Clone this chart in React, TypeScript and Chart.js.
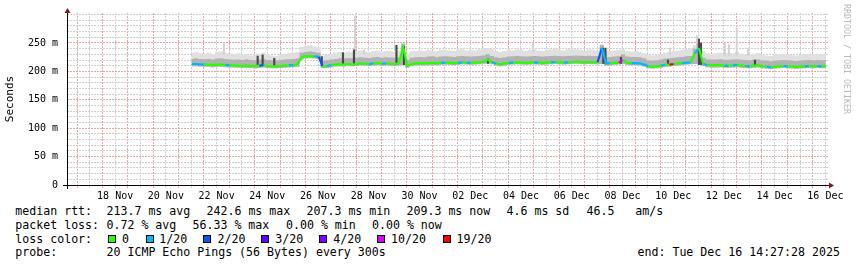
import React, { useEffect, useRef } from 'react';
import { Chart, registerables } from 'chart.js';

Chart.register(...registerables);

// ---- time frame: hours since window start (Sun 16 Nov 2025 14:27:28), 30-day window ----
const WINDOW_HOURS = 720;
const FIRST_SAMPLE_HOUR = 118;
const SAMPLE_STEP_HOURS = 4;
const FIRST_MIDNIGHT_HOUR = 9.54; // 17 Nov 00:00
const FIRST_LABEL_HOUR = 45.54; // 18 Nov 12:00
const Y_MAX = 302.8;

const dayLabels = ['18 Nov', '20 Nov', '22 Nov', '24 Nov', '26 Nov', '28 Nov', '30 Nov', '02 Dec', '04 Dec', '06 Dec', '08 Dec', '10 Dec', '12 Dec', '14 Dec', '16 Dec'];
const yTickValues = [0, 50, 100, 150, 200, 250];
const yTickLabels = ['0', '50 m', '100 m', '150 m', '200 m', '250 m'];

// ---- median rtt (ms), one value per 4 h ----
const medianMs = [
  213, 213, 212.5, 212, 212, 211.5, 211.8, 212, 211.5, 211,
  210.5, 210, 209.5, 210, 209.5, 209, 210, 211, 209.5, 209,
  209, 209.5, 210, 210.5, 211, 212, 225, 226.5, 227, 226.5,
  226, 209, 209.5, 211, 212, 212.5, 212, 213, 212.5, 213,
  214, 213.5, 213, 214, 214.5, 213.5, 214, 213.5, 213, 214,
  242.6, 210, 213, 214, 214.5, 214, 214.5, 215, 214.5, 215,
  215.5, 215, 214.5, 215, 216, 215.5, 215, 215.5, 216, 217,
  221, 216, 214, 212.5, 214, 215, 215.5, 216, 215.5, 215,
  215.5, 216, 215.5, 215, 215.5, 216, 216.5, 216, 215.5, 216,
  216.5, 217, 216.5, 216, 216.5, 216, 216, 241, 214, 214.5,
  215, 215.5, 220, 215, 214.5, 214.5, 214, 212, 209, 208.5,
  209, 210, 211.5, 212, 213, 214, 214.5, 215.5, 216, 232,
  241, 213, 211, 210.5, 210.5, 211, 210, 210, 210.5, 211,
  210, 209.5, 209, 210, 210.5, 209, 208.5, 207.3, 208.5, 209,
  209.5, 209, 208.5, 208, 208.5, 209, 209.5, 209, 209.5, 209, 209.3,
];

// ---- lost pings out of 20, per sample ----
const lostPings = [
  1, 1, 1, 1, 0, 0, 0, 0, 0, 1,
  0, 0, 0, 0, 0, 0, 0, 2, 0, 0,
  0, 0, 0, 0, 1, 0, 0, 0, 0, 0,
  1, 2, 0, 1, 0, 0, 0, 0, 0, 0,
  0, 0, 0, 1, 0, 0, 1, 0, 0, 0,
  0, 0, 0, 0, 0, 0, 0, 0, 0, 0,
  1, 0, 0, 0, 1, 0, 1, 0, 0, 0,
  0, 0, 1, 0, 0, 0, 1, 0, 0, 0,
  0, 0, 1, 0, 0, 0, 1, 0, 0, 1,
  0, 0, 0, 0, 0, 0, 0, 2, 1, 1,
  0, 0, 10, 0, 0, 1, 1, 1, 1, 0,
  0, 0, 1, 0, 19, 0, 0, 1, 1, 0,
  1, 0, 1, 0, 0, 0, 0, 1, 0, 1,
  0, 0, 1, 0, 0, 0, 0, 1, 0, 0,
  0, 1, 0, 0, 0, 0, 1, 0, 0, 1, 0,
];

// ---- smoke: lowest ping, top of dense smoke, top of light smoke (ms) ----
const smokeLowMs = [
  209, 209, 208.5, 208, 208, 207.5, 208, 208, 207.5, 207,
  207, 206.5, 206, 206.5, 206, 205.5, 206, 207, 206, 205.5,
  205.5, 206, 206.5, 207, 207.5, 208, 221, 222.5, 223, 222.5,
  222, 206, 206, 207.5, 208.5, 209, 208.5, 209.5, 209, 209.5,
  210.5, 210, 209.5, 210.5, 211, 210, 210.5, 210, 209.5, 210.5,
  211, 206.5, 209.5, 210.5, 211, 210.5, 211, 211.5, 211, 211.5,
  212, 211.5, 211, 211.5, 212.5, 212, 211.5, 212, 212.5, 213.5,
  214, 212.5, 210.5, 209, 210.5, 211.5, 212, 212.5, 212, 211.5,
  212, 212.5, 212, 211.5, 212, 212.5, 213, 212.5, 212, 212.5,
  213, 213.5, 213, 212.5, 213, 212.5, 212.5, 213, 210.5, 211,
  211.5, 212, 213, 211.5, 211, 211, 210.5, 208.5, 205.5, 205,
  205.5, 206.5, 208, 208.5, 209.5, 210.5, 211, 212, 212.5, 213,
  213, 209.5, 207.5, 207, 207, 207.5, 206.5, 206.5, 207, 207.5,
  206.5, 206, 205.5, 206.5, 207, 205.5, 205, 204, 205, 205.5,
  206, 205.5, 205, 204.5, 205, 205.5, 206, 205.5, 206, 205.5, 206,
];
const smokeDenseTopMs = [
  222, 223, 222, 221.5, 222, 221, 222.5, 223, 222, 221,
  220.5, 221, 220, 221.5, 220, 219.5, 221, 222, 220, 219.5,
  219, 220, 221, 221.5, 222, 223, 233, 234, 235, 234,
  233, 219, 219.5, 221, 222, 223, 222.5, 223.5, 223, 224,
  225, 224, 223.5, 225, 225.5, 224, 225, 224.5, 224, 225,
  248, 220, 224, 225, 225.5, 225, 226, 226.5, 225.5, 226,
  226.5, 226, 225.5, 226.5, 227, 226.5, 226, 226.5, 227, 228,
  230, 227, 225, 223.5, 225, 226, 226.5, 227, 226.5, 226,
  226.5, 227, 226.5, 226, 226.5, 227, 227.5, 227, 226.5, 227,
  227.5, 228, 227.5, 227, 227.5, 227, 227, 246, 225, 225.5,
  226, 226.5, 230, 226, 225.5, 225.5, 225, 223, 219.5, 219,
  219.5, 221, 222.5, 223, 224, 225, 225.5, 226.5, 227, 240,
  248, 224, 221.5, 221, 221, 221.5, 220.5, 220.5, 221, 221.5,
  220.5, 220, 219.5, 220.5, 221, 219.5, 219, 218, 219, 219.5,
  220, 219.5, 219, 218.5, 219, 219.5, 220, 219.5, 220, 219.5, 220,
];
const smokeLightTopMs = [
  233, 234, 232, 231, 233, 230, 234, 235, 233, 231,
  230, 232, 229, 231, 228, 229, 231, 233, 230, 228,
  227, 230, 231, 232, 233, 234, 243, 245, 246, 244,
  242, 228, 229, 231, 233, 234, 233, 235, 234, 236,
  237, 235, 234, 236, 237, 235, 236, 236, 234, 237,
  250, 230, 235, 236, 237, 236, 238, 237, 236, 238,
  238, 237, 236, 238, 239, 237, 238, 237, 239, 240,
  241, 239, 236, 234, 236, 238, 237, 239, 238, 236,
  238, 239, 237, 236, 238, 239, 240, 238, 237, 239,
  240, 239, 238, 237, 239, 238, 237, 248, 237, 236,
  237, 238, 239, 236, 235, 236, 234, 232, 229, 228,
  229, 231, 233, 234, 236, 237, 238, 239, 240, 246,
  252, 236, 232, 231, 232, 233, 231, 233, 232, 234,
  231, 230, 229, 231, 232, 229, 228, 227, 229, 230,
  231, 230, 229, 228, 229, 230, 231, 230, 231, 230, 231,
];

// ---- individual smoke spikes: [hour, low ms, high ms] ----
const darkSpikes = [
  [180.4, 212, 227], [185.1, 212, 229], [196.1, 210, 223], [241, 210, 226],
  [261.1, 212, 233], [271.5, 212, 238], [311.7, 213, 246], [318.8, 212, 244],
  [398.3, 214, 222], [507.4, 214, 241], [509.5, 214, 241], [524.1, 214, 225],
  [568.6, 211, 220], [597.9, 212, 257], [599.8, 212, 250], [650.9, 210, 220],
];
const lightSpikes = [
  [148.5, 230, 250], [272.5, 230, 298], [281, 230, 238], [441, 235, 250],
  [570.5, 230, 241], [596, 230, 263], [622.5, 228, 250], [626.3, 228, 247],
  [633.6, 228, 275], [644.3, 228, 240],
];

// ---- legend ----
const lossSteps = [0, 1, 2, 3, 4, 10, 19];
const lossLabels = ['0', '1/20', '2/20', '3/20', '4/20', '10/20', '19/20'];
const lossColors = ['#26ff00', '#00b8ff', '#0059ff', '#5e00ff', '#7e00ff', '#dd00ff', '#ff0000'];
const rttLine = ['median rtt:', '213.7 ms avg', '242.6 ms max', '207.3 ms min', '209.3 ms now', '4.6 ms sd', '46.5   am/s'];
const lossLine = ['packet loss:', '0.72 % avg', '56.33 % max', '0.00 % min', '0.00 % now'];
const probeLine = ['probe:', '20 ICMP Echo Pings (56 Bytes) every 300s', 'end: Tue Dec 16 14:27:28 2025'];
const watermark = 'RRDTOOL / TOBI OETIKER';

// ---- layout / style ----
const W = 857;
const CANVAS_H = 200;
const MONO = '"DejaVu Sans Mono", monospace';
const GRID_GRAY = '#cfcfcf';
const GRID_RED = '#eaa4a4';
const ARROW = '#7f1a1a';
const rttX = [15.3, 106.5, 206.5, 306.5, 406.5, 506.5, 586.5];
const lossX = [15.3, 106.5, 192.5, 286, 372];
const probeX = [15.3, 106.5, 637.5];
const swatchX = [108, 145.5, 203, 261, 319, 377, 442.5];
const lossLabelX = [122, 159.3, 217.5, 275.3, 333.3, 391, 456.6];
const lineTops = [204, 218, 231.7, 245.3];

const colorForLoss = (n: number) => {
  let c = lossColors[0];
  lossSteps.forEach((s, i) => { if (n >= s) c = lossColors[i]; });
  return c;
};
const hourOf = (i: number) => FIRST_SAMPLE_HOUR + i * SAMPLE_STEP_HOURS;
const isInt = (v: number) => Math.abs(v - Math.round(v)) < 1e-6;
const isMidnight = (v: number) => isInt((v - FIRST_MIDNIGHT_HOUR) / 24);

const tickValueAt = (c: any) => {
  const s = c && c.scale;
  const t = c && (c.tick || (s && s.ticks && s.ticks[c.index]));
  return t ? Number(t.value) : NaN;
};

const axesPlugin = {
  id: 'rrdAxes',
  afterDatasetsDraw(chart: any) {
    const { ctx, chartArea } = chart;
    const { left, right, top, bottom } = chartArea;
    ctx.save();
    ctx.setLineDash([]);
    ctx.strokeStyle = '#000';
    ctx.lineWidth = 1;
    ctx.beginPath();
    ctx.moveTo(left - 4, bottom + 0.5);
    ctx.lineTo(right + 2, bottom + 0.5);
    ctx.moveTo(left + 0.5, bottom + 4);
    ctx.lineTo(left + 0.5, top - 2);
    ctx.stroke();
    ctx.fillStyle = ARROW;
    ctx.beginPath();
    ctx.moveTo(left + 0.5, top - 5);
    ctx.lineTo(left - 2.5, top);
    ctx.lineTo(left + 3.5, top);
    ctx.closePath();
    ctx.fill();
    ctx.beginPath();
    ctx.moveTo(right + 6, bottom + 0.5);
    ctx.lineTo(right + 1, bottom - 2.5);
    ctx.lineTo(right + 1, bottom + 3.5);
    ctx.closePath();
    ctx.fill();
    ctx.restore();
  },
};

const zeroPadding = (s: any) => {
  s.paddingLeft = 0; s.paddingRight = 0; s.paddingTop = 0; s.paddingBottom = 0;
};

export default function App() {
  const ref = useRef<HTMLCanvasElement>(null);

  useEffect(() => {
    if (!ref.current) return;
    const pts = (arr: number[]) => arr.map((v, i) => ({ x: hourOf(i), y: v }));
    const smokeCommon = {
      type: 'line' as const,
      pointRadius: 0,
      borderWidth: 1,
      borderColor: 'rgba(0,0,0,0)',
      stepped: 'middle' as const,
    };
    const xColor = (c: any) => (isMidnight(tickValueAt(c)) ? GRID_RED : GRID_GRAY);
    const yColor = (c: any) => {
      const v = tickValueAt(c);
      return v % 50 === 0 && v < 300 ? GRID_RED : GRID_GRAY;
    };
    const chart = new Chart(ref.current, {
      type: 'line',
      data: {
        datasets: [
          {
            type: 'line',
            label: 'median',
            data: pts(medianMs),
            borderColor: lossColors[0],
            borderWidth: 2.2,
            pointRadius: 0,
            fill: false,
            segment: {
              borderColor: (c: any) => colorForLoss(lostPings[c.p1DataIndex]),
            },
          } as any,
          {
            type: 'bar',
            label: 'dark spikes',
            data: darkSpikes.map(([h, lo, hi]) => ({ x: h, y: [lo, hi] })),
            backgroundColor: '#4a4a4a',
            barThickness: 1.5,
            grouped: false,
          } as any,
          { ...smokeCommon, label: 'dense smoke', data: pts(smokeDenseTopMs), fill: 5, backgroundColor: '#b2b2b2' } as any,
          {
            type: 'bar',
            label: 'light spikes',
            data: lightSpikes.map(([h, lo, hi]) => ({ x: h, y: [lo, hi] })),
            backgroundColor: '#d2d2d2',
            barThickness: 1.2,
            grouped: false,
          } as any,
          { ...smokeCommon, label: 'light smoke', data: pts(smokeLightTopMs), fill: 5, backgroundColor: '#e0e0e0' } as any,
          { ...smokeCommon, label: 'smoke low', data: pts(smokeLowMs), fill: false } as any,
        ],
      },
      options: {
        responsive: false,
        animation: false,
        events: [],
        layout: { padding: { top: 13, right: 29, left: 0, bottom: 0 } },
        plugins: { legend: { display: false }, tooltip: { enabled: false } },
        scales: {
          x: {
            type: 'linear',
            min: 0,
            max: WINDOW_HOURS,
            offset: false,
            afterBuildTicks: (s: any) => {
              const t = [];
              for (let k = 0; FIRST_MIDNIGHT_HOUR + 12 * k <= WINDOW_HOURS; k++) t.push({ value: FIRST_MIDNIGHT_HOUR + 12 * k });
              s.ticks = t;
            },
            afterFit: (s: any) => { s.height = CANVAS_H - 185; zeroPadding(s); },
            grid: {
              offset: false,
              color: xColor,
              tickColor: xColor,
              tickLength: 3,
              drawTicks: true,
              lineWidth: 1,
            },
            border: { display: false, dash: [2, 1] },
            ticks: {
              autoSkip: false,
              maxRotation: 0,
              minRotation: 0,
              padding: 2,
              color: '#000',
              font: { family: MONO, size: 10 },
              callback: (v: any) => {
                const k = (Number(v) - FIRST_LABEL_HOUR) / 48;
                if (isInt(k)) {
                  const idx = Math.round(k);
                  if (idx >= 0 && idx < dayLabels.length) return dayLabels[idx];
                }
                return '';
              },
            },
          },
          y: {
            type: 'linear',
            min: 0,
            max: Y_MAX,
            afterBuildTicks: (s: any) => {
              const t = [];
              for (let v = 0; v <= 300; v += 10) t.push({ value: v });
              s.ticks = t;
            },
            afterFit: (s: any) => { s.width = 67; zeroPadding(s); },
            grid: {
              color: yColor,
              drawTicks: false,
              lineWidth: 1,
            },
            border: { display: false, dash: [2, 1] },
            ticks: {
              autoSkip: false,
              padding: 9,
              color: '#000',
              font: { family: MONO, size: 10 },
              callback: (v: any) => {
                const idx = yTickValues.indexOf(Number(v));
                return idx >= 0 ? yTickLabels[idx] : '';
              },
            },
            title: {
              display: true,
              text: 'Seconds',
              color: '#000',
              font: { family: MONO, size: 11 },
              padding: { top: 4, bottom: 0 },
            },
          },
        },
      } as any,
      plugins: [axesPlugin],
    });
    return () => chart.destroy();
  }, []);

  const txt = (s: string, left: number, top: number, key: string) => (
    <div key={key} style={{ position: 'absolute', left, top, fontSize: '11.6px', lineHeight: '14px', whiteSpace: 'pre', color: '#000', fontFamily: MONO }}>{s}</div>
  );

  return (
    <div style={{ position: 'absolute', left: 0, top: 0, width: W, height: 267, background: '#fff', overflow: 'hidden', fontFamily: MONO }}>
      <canvas ref={ref} width={W} height={CANVAS_H} style={{ position: 'absolute', left: 0, top: 0, width: W, height: CANVAS_H }} />
      <div style={{ position: 'absolute', left: 842, top: 4, writingMode: 'vertical-rl', fontSize: '8.3px', lineHeight: '10px', color: '#b9b9b9', fontFamily: MONO, whiteSpace: 'pre' }}>{watermark}</div>
      {rttLine.map((s, i) => txt(s, rttX[i], lineTops[0], 'r' + i))}
      {lossLine.map((s, i) => txt(s, lossX[i], lineTops[1], 'l' + i))}
      {txt('loss color:', 15.3, lineTops[2], 'lc')}
      {lossLabels.map((s, i) => (
        <React.Fragment key={'c' + i}>
          <div style={{ position: 'absolute', left: swatchX[i], top: 235, width: 8, height: 8, boxSizing: 'border-box', border: '1px solid #000', background: lossColors[i] }} />
          {txt(s, lossLabelX[i], lineTops[2], 'cl' + i)}
        </React.Fragment>
      ))}
      {probeLine.map((s, i) => txt(s, probeX[i], lineTops[3], 'p' + i))}
    </div>
  );
}
